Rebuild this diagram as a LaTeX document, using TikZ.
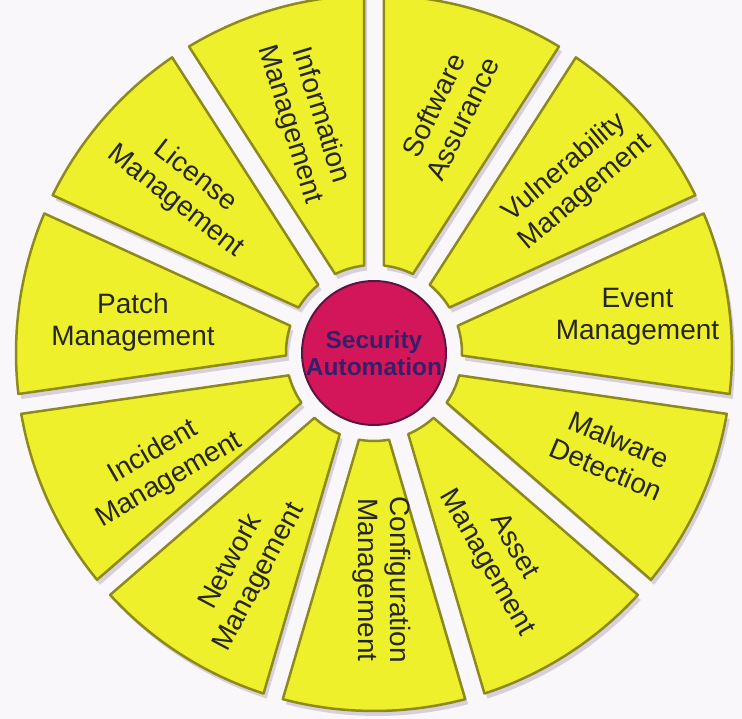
\documentclass[tikz,border=0pt]{standalone}
\usepackage{fontspec}
\setmainfont{Liberation Sans}
\usepackage{tikz}
\usepackage{xcolor}
\definecolor{segyellow}{HTML}{EEF02C}
\definecolor{segedge}{HTML}{8E8A1A}
\definecolor{segshade}{HTML}{C9BFD3}
\definecolor{corered}{HTML}{D3165A}
\definecolor{coreedge}{HTML}{5C1440}
\definecolor{coretext}{HTML}{34206A}
\definecolor{bgcol}{HTML}{FAF7FB}
\tikzset{segment/.style={fill=segyellow, draw=segedge, line width=2.5pt, line join=round},
  segshadow/.style={fill=segshade, opacity=0.7},
  segtext/.style={align=center, text=black!85, font=\fontsize{28}{32}\selectfont}}
% one piece of the wheel, #1 = middle angle
\newcommand{\sectorpath}[1]{(#1+9.84:88) -- (#1+14.76:358) arc[start angle=#1+14.76, end angle=#1-14.76, radius=358] -- (#1-9.84:88) arc[start angle=#1-9.84, end angle=#1+9.84, radius=88] -- cycle}
\newcommand{\sector}[1]{\fill[segshadow, shift={(3,-5)}] \sectorpath{#1}; \draw[segment] \sectorpath{#1};}

\begin{document}
\begin{tikzpicture}[x=1pt, y=1pt]
\fill[bgcol] (-374,-366) rectangle (368,353);
\clip (-374,-366) rectangle (368,353);
% the eleven pieces
\sector{73.64}
\sector{40.91}
\sector{8.18}
\sector{-24.55}
\sector{-57.27}
\sector{-90}
\sector{-122.73}
\sector{-155.45}
\sector{171.82}
\sector{139.09}
\sector{106.36}
% labels
\node[segtext, rotate=64] (swa) at (73:252) {Software\\Assurance};
\node[segtext, rotate=40] (vul) at (40.7:265) {Vulnerability\\Management};
\node[segtext] (evt) at (7.8:266) {Event\\Management};
\node[segtext, rotate=-23] (mal) at (-23:259) {Malware\\Detection};
\node[segtext, rotate=-60] (ast) at (-58:238) {Asset\\Management};
\node[segtext, rotate=-90] (cfg) at (-88:227) {Configuration\\Management};
\node[segtext, rotate=62] (net) at (-120.7:252) {Network\\Management};
\node[segtext, rotate=30] (inc) at (-152:241) {Incident\\Management};
\node[segtext] (pat) at (172.7:243) {Patch\\Management};
\node[segtext, rotate=-38] (lic) at (139:250) {License\\Management};
\node[segtext, rotate=-73] (inf) at (106.5:243) {Information\\Management};
% hub
\node[circle, minimum size=144pt, fill=corered, draw=coreedge, line width=2pt, inner sep=0pt, align=center,
  text=coretext, font=\bfseries\fontsize{24.5}{27}\selectfont] (core) at (0,0) {Security\\Automation};
\end{tikzpicture}
\end{document}
